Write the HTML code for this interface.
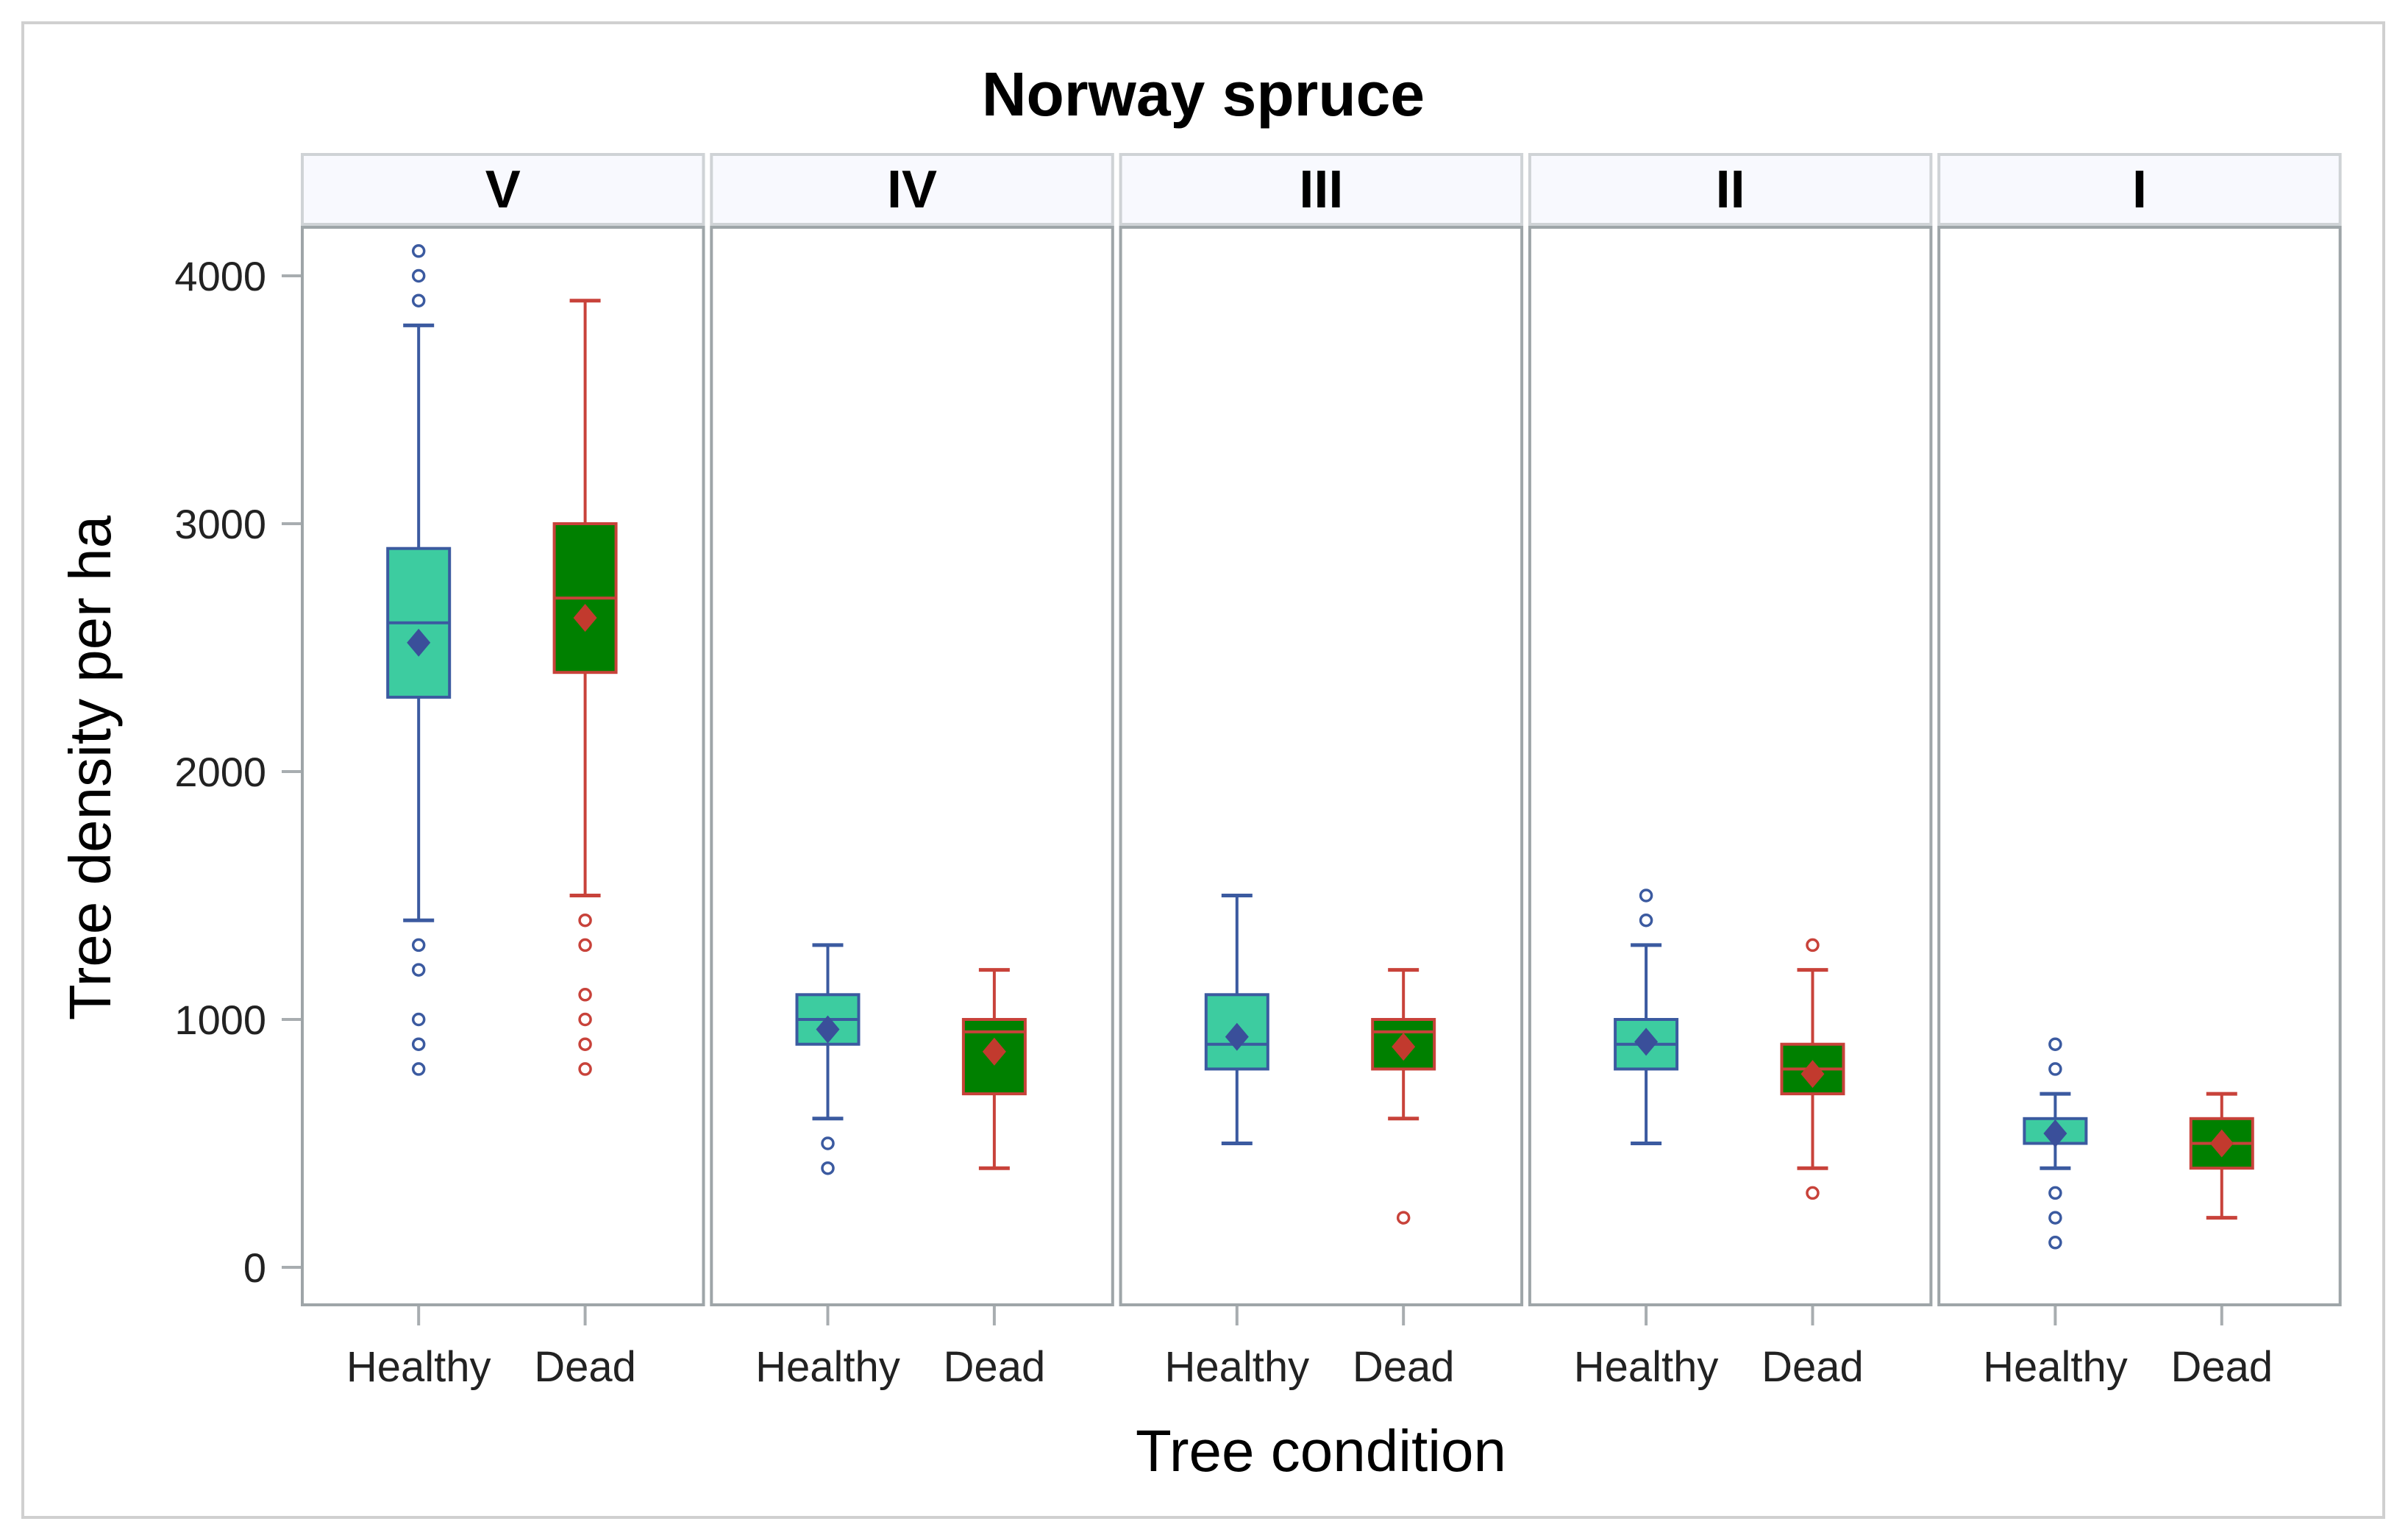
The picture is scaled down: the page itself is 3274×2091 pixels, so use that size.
<!DOCTYPE html>
<html><head><meta charset="utf-8"><style>
html,body{margin:0;padding:0;background:#fff}
svg{display:block}
text{font-family:"Liberation Sans",sans-serif}
</style></head><body>
<svg id="chart" width="3274" height="2091" viewBox="0 0 3274 2091" xmlns="http://www.w3.org/2000/svg">
<rect x="31" y="31" width="3210" height="2032" fill="#fff" stroke="#d0d0d0" stroke-width="4"/>
<text x="1636" y="157" font-size="84" font-weight="bold" text-anchor="middle">Norway spruce</text>
<text transform="translate(150,1044) rotate(-90)" font-size="80" text-anchor="middle">Tree density per ha</text>
<text x="1796" y="2000" font-size="80" text-anchor="middle">Tree condition</text>
<g id="plot"></g>
</svg>
<script>
const panels = ["V","IV","III","II","I"];
const groups = ["Healthy","Dead"];
const yTicks = [0,1000,2000,3000,4000];
const q1 = [[2300,2400],[900,700],[800,800],[800,700],[500,400]];
const med = [[2600,2700],[1000,950],[900,950],[900,800],[500,500]];
const q3 = [[2900,3000],[1100,1000],[1100,1000],[1000,900],[600,600]];
const mean = [[2520,2620],[960,870],[930,890],[910,780],[540,500]];
const wLo = [[1400,1500],[600,400],[500,600],[500,400],[400,200]];
const wHi = [[3800,3900],[1300,1200],[1500,1200],[1300,1200],[700,700]];
const outliers = [
 [[4100,4000,3900,1300,1200,1000,900,800],[1400,1300,1100,1000,900,800]],
 [[500,400],[]],
 [[],[200]],
 [[1500,1400],[1300,300]],
 [[900,800,300,200,100],[]]
];

const NS="http://www.w3.org/2000/svg";
const g=document.getElementById('plot');
function el(tag,attrs,parent){const e=document.createElementNS(NS,tag);for(const k in attrs)e.setAttribute(k,attrs[k]);(parent||g).appendChild(e);return e;}
const y0=1723, pxPer=337/1000;
function yS(v){return y0 - v*pxPer;}
const pLeft0=411, pStep=556.3, pW=545.5, pTop=309, pBot=1774, hTop=210, hBot=305;
function xS(p,gi){return pLeft0+p*pStep+pW*(gi===0?0.29:0.705);}
const colors=[{fill:"#3dcca0",stroke:"#3b5aa0",mean:"#3a4f9a"},{fill:"#008000",stroke:"#c8423a",mean:"#c23a2e"}];

yTicks.forEach(t=>{
 const tk=el('line',{x1:383,x2:411,y1:yS(t),y2:yS(t),stroke:'#a8adb0','stroke-width':4});
 
 
 const tl=el('text',{x:362,y:yS(t)+20,'font-size':56,'text-anchor':'end',fill:'#222'});
 tl.textContent=t;
 
 
});

panels.forEach((pn,p)=>{
 const px=pLeft0+p*pStep;
 const hd=el('rect',{x:px,y:hTop,width:pW,height:hBot-hTop,fill:'#f8f9fe',stroke:'#cfd3d6','stroke-width':4});
 
 
 const ht=el('text',{x:px+pW/2,y:282,'font-size':72,'font-weight':'bold','text-anchor':'middle'});
 ht.textContent=pn;
 
 
 const fr=el('rect',{x:px,y:pTop,width:pW,height:pBot-pTop,fill:'#fff',stroke:'#9ea5a8','stroke-width':4});
 
 
 groups.forEach((gn,gi)=>{
  const cx=xS(p,gi), c=colors[gi], bw=84, cw=42;
  const xt=el('line',{x1:cx,x2:cx,y1:pBot+2,y2:1802,stroke:'#a8adb0','stroke-width':4});
  
  
  const xl=el('text',{x:cx,y:1878,'font-size':58,'text-anchor':'middle',fill:'#222'});
  xl.textContent=gn;
  
  
  const wl=el('line',{x1:cx,x2:cx,y1:yS(wHi[p][gi]),y2:yS(wLo[p][gi]),stroke:c.stroke,'stroke-width':4});
  
  
  [wHi[p][gi],wLo[p][gi]].forEach(v=>{
   const cap=el('line',{x1:cx-cw/2,x2:cx+cw/2,y1:yS(v),y2:yS(v),stroke:c.stroke,'stroke-width':5});
   
   
  });
  const bx=el('rect',{x:cx-bw/2,y:yS(q3[p][gi]),width:bw,height:yS(q1[p][gi])-yS(q3[p][gi]),fill:c.fill,stroke:c.stroke,'stroke-width':4});
  
  
  const md=el('line',{x1:cx-bw/2,x2:cx+bw/2,y1:yS(med[p][gi]),y2:yS(med[p][gi]),stroke:c.stroke,'stroke-width':4});
  
  
  const my=yS(mean[p][gi]);
  const mn=el('polygon',{points:`${cx},${my-19} ${cx+16},${my} ${cx},${my+19} ${cx-16},${my}`,fill:c.mean});
  
  
  outliers[p][gi].forEach(v=>{
   const o=el('circle',{cx:cx,cy:yS(v),r:7.5,fill:'none',stroke:c.stroke,'stroke-width':3.5});
   
   
  });
 });
});
</script>
</body></html>
